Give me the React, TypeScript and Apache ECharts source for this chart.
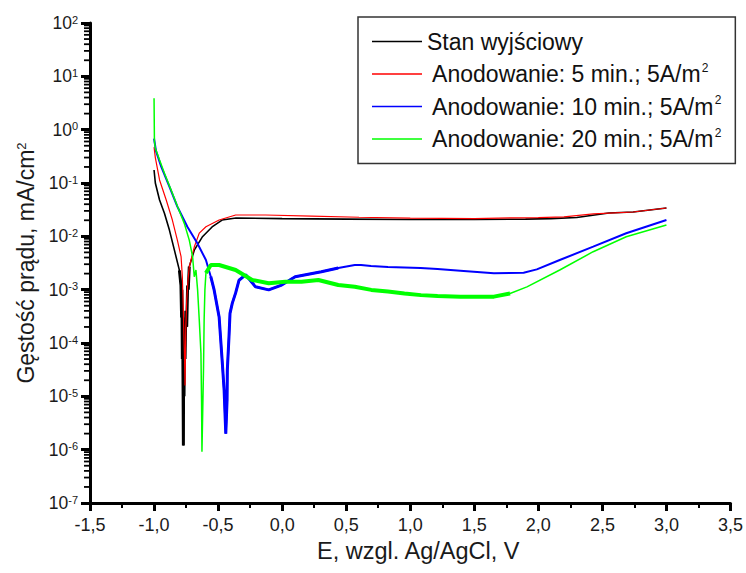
import React, { useEffect, useRef } from 'react';
import * as echarts from 'echarts';

// Potential E (V vs Ag/AgCl) and current density i (mA/cm2)
const stanE = [-1.0, -0.99, -0.957, -0.919, -0.88, -0.841, -0.802, -0.79, -0.785, -0.783, -0.779, -0.777, -0.773, -0.771, -0.769, -0.766, -0.762, -0.758, -0.752, -0.745, -0.738, -0.733, -0.725, -0.686, -0.624, -0.547, -0.469, -0.36, 0.0, 0.5, 1.0, 1.5, 1.9, 2.1, 2.3, 2.55, 2.74, 3.0];
const stanI = [0.175, 0.1, 0.048, 0.027, 0.0131, 0.0055, 0.0023, 0.0012, 0.0003, 0.001, 0.00005, 0.0003, 0.00001, 0.0000012, 0.00004, 0.00001, 0.00015, 0.00005, 0.0004, 0.0002, 0.0012, 0.001, 0.0027, 0.0055, 0.0097, 0.015, 0.0202, 0.0221, 0.0215, 0.021, 0.0207, 0.0207, 0.021, 0.0215, 0.0225, 0.0274, 0.0286, 0.034];
// index range of the noisy (thick) part of the initial-state curve
const stanBandStart = 6;
const stanBandEnd = 22;

const a5E = [-1.0, -0.99, -0.957, -0.905, -0.857, -0.818, -0.789, -0.779, -0.77, -0.762, -0.758, -0.752, -0.745, -0.735, -0.725, -0.686, -0.647, -0.595, -0.492, -0.363, -0.13, 0.23, 0.6, 1.0, 1.5, 1.8, 2.0, 2.2, 2.43, 2.74, 3.0];
const a5I = [0.47, 0.3, 0.114, 0.048, 0.0202, 0.0085, 0.00415, 0.00173, 0.0003, 0.00005, 0.000016, 0.0002, 0.00064, 0.0015, 0.00266, 0.0063, 0.0115, 0.0151, 0.0202, 0.0251, 0.0251, 0.024, 0.0228, 0.022, 0.0214, 0.0222, 0.0225, 0.0232, 0.0263, 0.0286, 0.034];

const a10E = [-1.0, -0.985, -0.944, -0.88, -0.818, -0.74, -0.663, -0.595, -0.557, -0.531, -0.492, -0.467, -0.453, -0.44, -0.43, -0.428, -0.415, -0.407, -0.389, -0.363, -0.337, -0.285, -0.208, -0.105, -0.004, 0.102, 0.306, 0.438, 0.567, 0.616, 0.694, 0.826, 1.081, 1.213, 1.391, 1.653, 1.885, 1.988, 2.167, 2.428, 2.686, 3.0];
const a10I = [0.68, 0.4, 0.202, 0.0853, 0.036, 0.0151, 0.0075, 0.0036, 0.00175, 0.00099, 0.000307, 0.000042, 0.000013, 0.000002, 0.0000085, 0.000031, 0.00013, 0.00036, 0.00056, 0.00087, 0.0015, 0.0019, 0.00113, 0.00099, 0.00122, 0.00175, 0.00217, 0.00255, 0.0029, 0.0029, 0.00278, 0.00266, 0.00255, 0.00244, 0.00227, 0.00203, 0.00208, 0.0024, 0.0036, 0.0064, 0.0114, 0.0202];
// index range of the noisy (thick) part of the 10 min curve
const a10BandStart = 8;
const a10BandEnd = 27;

const a20E = [-1.0, -0.997, -0.99, -0.957, -0.919, -0.867, -0.816, -0.764, -0.725, -0.699, -0.686, -0.673, -0.66, -0.647, -0.634, -0.629, -0.626, -0.614, -0.609, -0.603, -0.595, -0.557, -0.492, -0.363, -0.234, -0.105, 0.025, 0.151, 0.283, 0.438, 0.567, 0.696, 0.826, 0.955, 1.084, 1.213, 1.391, 1.653, 1.779, 1.911, 2.167, 2.428, 2.686, 3.0];
const a20I = [3.9, 0.6, 0.45, 0.27, 0.152, 0.074, 0.036, 0.0175, 0.0085, 0.00415, 0.00175, 0.00234, 0.00099, 0.00027, 0.000065, 0.0000075, 0.00000091, 0.000031, 0.00027, 0.00099, 0.00205, 0.0029, 0.0029, 0.00234, 0.00152, 0.00132, 0.00141, 0.00141, 0.00152, 0.00122, 0.00113, 0.00099, 0.00092, 0.00085, 0.00079, 0.00076, 0.00074, 0.00074, 0.00085, 0.00113, 0.00234, 0.00515, 0.0098, 0.0163];
// index range of the noisy (thick) band of the 20 min curve
const a20BandStart = 20;
const a20BandEnd = 38;

const names = ['Stan wyjściowy', ' Anodowanie: 5 min.; 5A/m²', ' Anodowanie: 10 min.; 5A/m²', ' Anodowanie: 20 min.; 5A/m²'];
const colors = ['#000000', '#ff0000', '#0000ff', '#00ff00'];

// log-axis minor tick multipliers within each decade
const minorMultipliers = [2, 3, 4, 5, 6, 7, 8, 9];
const decadeExponents = [-7, -6, -5, -4, -3, -2, -1, 0, 1];

const zip = (xs: number[], ys: number[]) => xs.map((x, i) => [x, ys[i]]);

export default function App() {
  const ref = useRef<HTMLDivElement>(null);
  useEffect(() => {
    if (!ref.current) return;
    const chart = echarts.init(ref.current, undefined, { renderer: 'svg' });
    const font = 'Liberation Sans, Arial, sans-serif';
    const stan = zip(stanE, stanI);
    const a10 = zip(a10E, a10I);
    const a20 = zip(a20E, a20I);
    const minorTickValues: number[][] = [];
    decadeExponents.forEach((e) => minorMultipliers.forEach((m) => minorTickValues.push([-1.5, m * Math.pow(10, e)])));
    const lineSeries = (name: string, color: string, data: number[][], width: number, z = 2) => ({
      type: 'line',
      name,
      color,
      data,
      showSymbol: false,
      symbol: 'none',
      z,
      lineStyle: { color, width },
    });
    chart.setOption({
      animation: false,
      backgroundColor: '#ffffff',
      textStyle: { fontFamily: font },
      grid: { left: 90, right: 11, top: 23, bottom: 70, containLabel: false },
      legend: {
        orient: 'vertical',
        left: 358,
        top: 17,
        data: names,
        icon: 'rect',
        itemWidth: 50,
        itemHeight: 1.5,
        itemGap: 7.5,
        padding: [12, 14, 12, 14],
        borderColor: '#333',
        borderWidth: 1.5,
        backgroundColor: '#fff',
        formatter: (n: string) => n.replace('²', '{sup|2}'),
        textStyle: {
          fontFamily: font,
          fontSize: 23,
          lineHeight: 25,
          color: '#111',
          rich: { sup: { fontSize: 12, verticalAlign: 'top', lineHeight: 25, fontFamily: font, color: '#111' } },
        },
      },
      xAxis: {
        type: 'value',
        min: -1.5,
        max: 3.5,
        interval: 0.5,
        name: 'E, wzgl. Ag/AgCl, V',
        nameLocation: 'middle',
        nameGap: 32,
        nameTextStyle: { fontSize: 23.5, color: '#1a1a1a', fontFamily: font, padding: [0, 0, 0, 16] },
        axisLine: { onZero: false, lineStyle: { color: '#000', width: 3 } },
        axisTick: { length: 8, lineStyle: { color: '#000', width: 3 } },
        minorTick: { show: true, splitNumber: 2, length: 5, lineStyle: { color: '#000', width: 2 } },
        splitLine: { show: false },
        axisLabel: {
          fontSize: 18,
          color: '#1a1a1a',
          margin: 13,
          fontFamily: font,
          formatter: (v: number) => v.toFixed(1).replace('.', ','),
        },
      },
      yAxis: {
        type: 'log',
        logBase: 10,
        min: 1e-7,
        max: 100,
        interval: 1,
        name: 'Gęstość prądu, mA/cm{sup|2}',
        nameLocation: 'middle',
        nameGap: 47,
        nameTextStyle: {
          fontSize: 23,
          color: '#1a1a1a',
          fontFamily: font,
          rich: { sup: { fontSize: 13, verticalAlign: 'top', fontFamily: font, color: '#1a1a1a' } },
        },
        axisLine: { show: true, onZero: false, lineStyle: { color: '#000', width: 3 } },
        axisTick: { show: true, length: 9, lineStyle: { color: '#000', width: 3 } },
        minorTick: { show: false },
        splitLine: { show: false },
        axisLabel: {
          fontSize: 17.5,
          color: '#1a1a1a',
          margin: 12,
          fontFamily: font,
          formatter: (v: number) => '10{sup|' + Math.round(Math.log10(v)) + '}',
          rich: { sup: { fontSize: 11, verticalAlign: 'top', fontFamily: font, color: '#1a1a1a' } },
        },
      },
      series: [
        lineSeries(names[0], colors[0], stan, 1.6, 2),
        lineSeries(names[0], colors[0], stan.slice(stanBandStart, stanBandEnd + 1), 3, 2),
        lineSeries(names[1], colors[1], zip(a5E, a5I), 1.2, 3),
        lineSeries(names[2], colors[2], a10, 2, 4),
        lineSeries(names[2], colors[2], a10.slice(a10BandStart, a10BandEnd + 1), 3, 4),
        lineSeries(names[3], colors[3], a20, 1.5, 5),
        lineSeries(names[3], colors[3], a20.slice(a20BandStart, a20BandEnd + 1), 4, 5),
        {
          type: 'custom',
          coordinateSystem: 'cartesian2d',
          silent: true,
          clip: false,
          z: 6,
          data: minorTickValues,
          renderItem: (_params: any, api: any) => {
            const p = api.coord([api.value(0), api.value(1)]);
            return {
              type: 'line',
              shape: { x1: p[0] - 6, y1: p[1], x2: p[0], y2: p[1] },
              style: { stroke: '#000', lineWidth: 1.8 },
            };
          },
        },
      ],
    });
    return () => chart.dispose();
  }, []);
  return <div ref={ref} style={{ position: 'fixed', left: 0, top: 0, width: 746, height: 573, background: '#fff' }} />;
}
